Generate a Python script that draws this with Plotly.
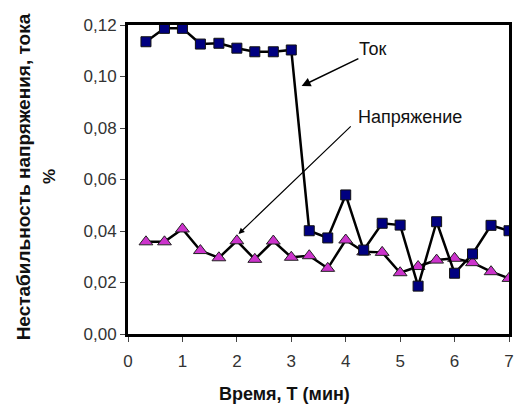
import plotly.graph_objects as go

time_min = [0.33, 0.67, 1.0, 1.33, 1.67, 2.0, 2.33, 2.67, 3.0, 3.33, 3.67,
            4.0, 4.33, 4.67, 5.0, 5.33, 5.67, 6.0, 6.33, 6.67, 7.0]
current = [0.1135, 0.1187, 0.1187, 0.1126, 0.1129, 0.1110, 0.1096, 0.1096, 0.1103,
           0.0401, 0.0373, 0.0540, 0.0326, 0.0430, 0.0423, 0.0186, 0.0436,
           0.0236, 0.0311, 0.0422, 0.0401]
voltage = [0.0358, 0.0358, 0.0408, 0.0324, 0.0296, 0.0362, 0.0290, 0.0361, 0.0298,
           0.0304, 0.0255, 0.0365, 0.0319, 0.0317, 0.0238, 0.0262, 0.0287,
           0.0294, 0.0277, 0.0242, 0.0216]
x_ticks = [0, 1, 2, 3, 4, 5, 6, 7]
y_ticks = [0.0, 0.02, 0.04, 0.06, 0.08, 0.10, 0.12]
y_labels = ["0,00", "0,02", "0,04", "0,06", "0,08", "0,10", "0,12"]

FONT = "Liberation Sans, Arial, sans-serif"

fig = go.Figure()
fig.add_trace(go.Scatter(
    x=time_min, y=voltage, mode="lines+markers", name="Напряжение",
    line=dict(color="black", width=2.5),
    marker=dict(symbol="triangle-up", size=12, color="#CC33CC",
                line=dict(color="#222", width=1)),
))
fig.add_trace(go.Scatter(
    x=time_min, y=current, mode="lines+markers", name="Ток",
    line=dict(color="black", width=2.5),
    marker=dict(symbol="square", size=10, color="#000080",
                line=dict(color="#111", width=1)),
))

fig.update_layout(
    width=521, height=405,
    margin=dict(l=128, r=7, t=25, b=71),
    paper_bgcolor="white", plot_bgcolor="white",
    showlegend=False,
    font=dict(family=FONT, color="#222"),
    xaxis=dict(range=[0, 7], tickvals=x_ticks, ticks="outside", ticklen=5,
               tickcolor="#444", showgrid=False, zeroline=False,
               showline=True, linecolor="black", linewidth=3, mirror=True,
               ticklabelstandoff=5,
               tickfont=dict(size=17, color="#333")),
    yaxis=dict(range=[0, 0.12], tickvals=y_ticks, ticktext=y_labels,
               ticks="outside", ticklen=5, tickcolor="#444",
               showgrid=False, zeroline=False,
               showline=True, linecolor="black", linewidth=3, mirror=True,
               tickfont=dict(size=17, color="#333")),
)

fig.add_annotation(xref="paper", yref="paper", x=(287 - 128) / 386, y=-(394 - 334) / 309,
                   text="<b>Время, Т (мин)</b>", showarrow=False,
                   font=dict(size=18, color="#111"), xanchor="center", yanchor="middle")
fig.add_annotation(xref="paper", yref="paper", x=-(128 - 22) / 386, y=(334 - 177) / 309,
                   text="<b>Нестабильность напряжения, тока</b>", showarrow=False,
                   textangle=-90, font=dict(size=19, color="#111"),
                   xanchor="center", yanchor="middle")
fig.add_annotation(xref="paper", yref="paper", x=-(128 - 48) / 386, y=(334 - 177) / 309,
                   text="<b>%</b>", showarrow=False,
                   textangle=-90, font=dict(size=17, color="#111"),
                   xanchor="center", yanchor="middle")

# callouts
fig.add_annotation(x=3.19, y=0.0963, ax=4.26, ay=0.1072, axref="x", ayref="y",
                   text="", showarrow=True, arrowhead=2, arrowsize=1.2,
                   arrowwidth=1.5, arrowcolor="black")
fig.add_annotation(x=4.21, y=0.1105, text="Ток", showarrow=False,
                   xanchor="left", yanchor="middle", font=dict(size=18, color="#111"))
fig.add_annotation(x=2.03, y=0.0388, ax=4.12, ay=0.0812, axref="x", ayref="y",
                   text="", showarrow=True, arrowhead=2, arrowsize=1.0,
                   arrowwidth=1.2, arrowcolor="black")
fig.add_annotation(x=4.19, y=0.0843, text="Напряжение", showarrow=False,
                   xanchor="left", yanchor="middle", font=dict(size=18, color="#111"))

fig.write_html("out.html")
